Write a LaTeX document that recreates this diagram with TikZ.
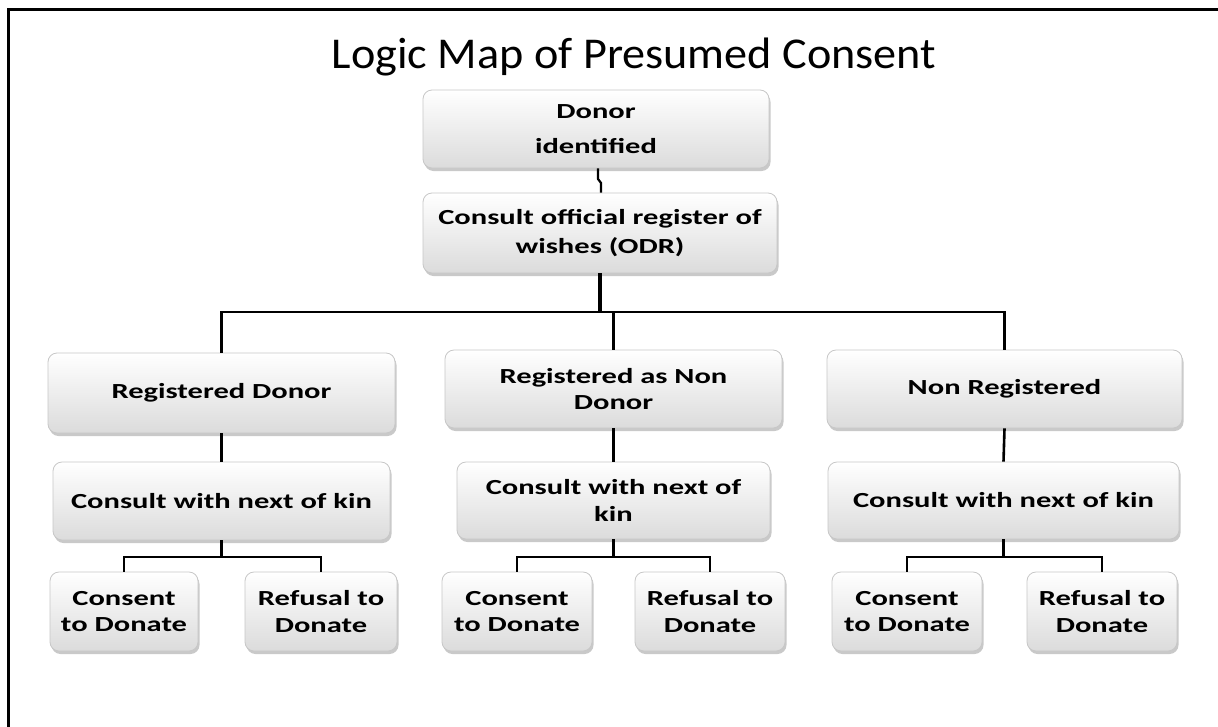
\documentclass[tikz,border=0pt]{standalone}
\usepackage{fontspec}
\usetikzlibrary{shadows}
\newfontfamily\boxfont[FakeStretch=1.42]{Carlito}
\newfontfamily\titlefont[FakeStretch=1.05]{Carlito}
\tikzset{
  box/.style={rounded corners=9pt, inner sep=0pt, align=center,
    draw=black!22, line width=0.8pt,
    top color=white, bottom color=black!14,
    drop shadow={shadow xshift=1.5pt, shadow yshift=-3pt, opacity=0.35, fill=black!60},
    font=\boxfont\bfseries\fontsize{21.5}{26.5}\selectfont},
  conn/.style={draw=black, line width=2.6pt},
  thinconn/.style={draw=black, line width=2.2pt},
  thickconn/.style={draw=black, line width=4.5pt},
  frame/.style={draw=black, line width=3pt}
}
\begin{document}
\begin{tikzpicture}[x=1pt,y=-1pt]
\useasboundingbox (0,0) rectangle (1218,726);
\fill[white] (0,0) rectangle (1218,726);
\draw[frame] (8,740) -- (8,9) -- (1230,9);

\node[anchor=base, font=\titlefont\fontsize{44}{50}\selectfont] (title) at (634,68) {Logic Map of Presumed Consent};

\node[box, minimum width=346pt, minimum height=78pt, font=\boxfont\bfseries\fontsize{21.5}{35}\selectfont] (A) at (596,129) {Donor\\identified};
\node[box, minimum width=354pt, minimum height=80pt, font=\boxfont\bfseries\fontsize{21.5}{29}\selectfont] (B) at (600,233) {Consult official register of\\wishes (ODR)};

\node[box, minimum width=347pt, minimum height=80pt] (C1) at (221.5,393) {Registered Donor};
\node[box, minimum width=337pt, minimum height=78pt] (C2) at (613.5,389) {Registered as Non\\Donor};
\node[box, minimum width=355pt, minimum height=78pt] (C3) at (1004.5,389) {Non Registered};

\node[box, minimum width=337pt, minimum height=78pt] (D1) at (221.5,501) {Consult with next of kin};
\node[box, minimum width=313pt, minimum height=77pt] (D2) at (613.5,500.5) {Consult with next of\\kin};
\node[box, minimum width=351pt, minimum height=77pt] (D3) at (1003.5,500.5) {Consult with next of kin};

\node[box, minimum width=148pt, minimum height=79pt] (E1a) at (124,611.5) {Consent\\to Donate};
\node[box, minimum width=152pt, minimum height=79pt] (E1b) at (321,611.5) {Refusal to\\Donate};
\node[box, minimum width=150pt, minimum height=79pt] (E2a) at (517,611.5) {Consent\\to Donate};
\node[box, minimum width=150pt, minimum height=79pt] (E2b) at (710,611.5) {Refusal to\\Donate};
\node[box, minimum width=150pt, minimum height=79pt] (E3a) at (907,611.5) {Consent\\to Donate};
\node[box, minimum width=150pt, minimum height=79pt] (E3b) at (1102,611.5) {Refusal to\\Donate};

% A -> B
\draw[thinconn] (A.south -| 598,0) -- (598,179) -- (601,183) -- (B.north -| 601,0);
% B -> bus
\draw[thickconn] (B.south) -- (B.south |- 0,312);
\draw[thinconn] (C1.north) -- (C1.north |- 0,312) -- (C3.north |- 0,312) -- (C3.north);
\draw[conn] (C2.north) -- (C2.north |- 0,312);
% C -> D
\draw[conn] (C1.south) -- (D1.north);
\draw[conn] (C2.south) -- (D2.north);
\draw[conn] (C3.south) -- (D3.north);
% D -> E
\draw[conn] (D1.south) -- (D1.south |- 0,557);
\draw[thinconn] (E1a.north) -- ++(0,-15) -| (E1b.north);
\draw[conn] (D2.south) -- (D2.south |- 0,557);
\draw[thinconn] (E2a.north) -- ++(0,-15) -| (E2b.north);
\draw[conn] (D3.south) -- (D3.south |- 0,557);
\draw[thinconn] (E3a.north) -- ++(0,-15) -| (E3b.north);
\end{tikzpicture}
\end{document}
